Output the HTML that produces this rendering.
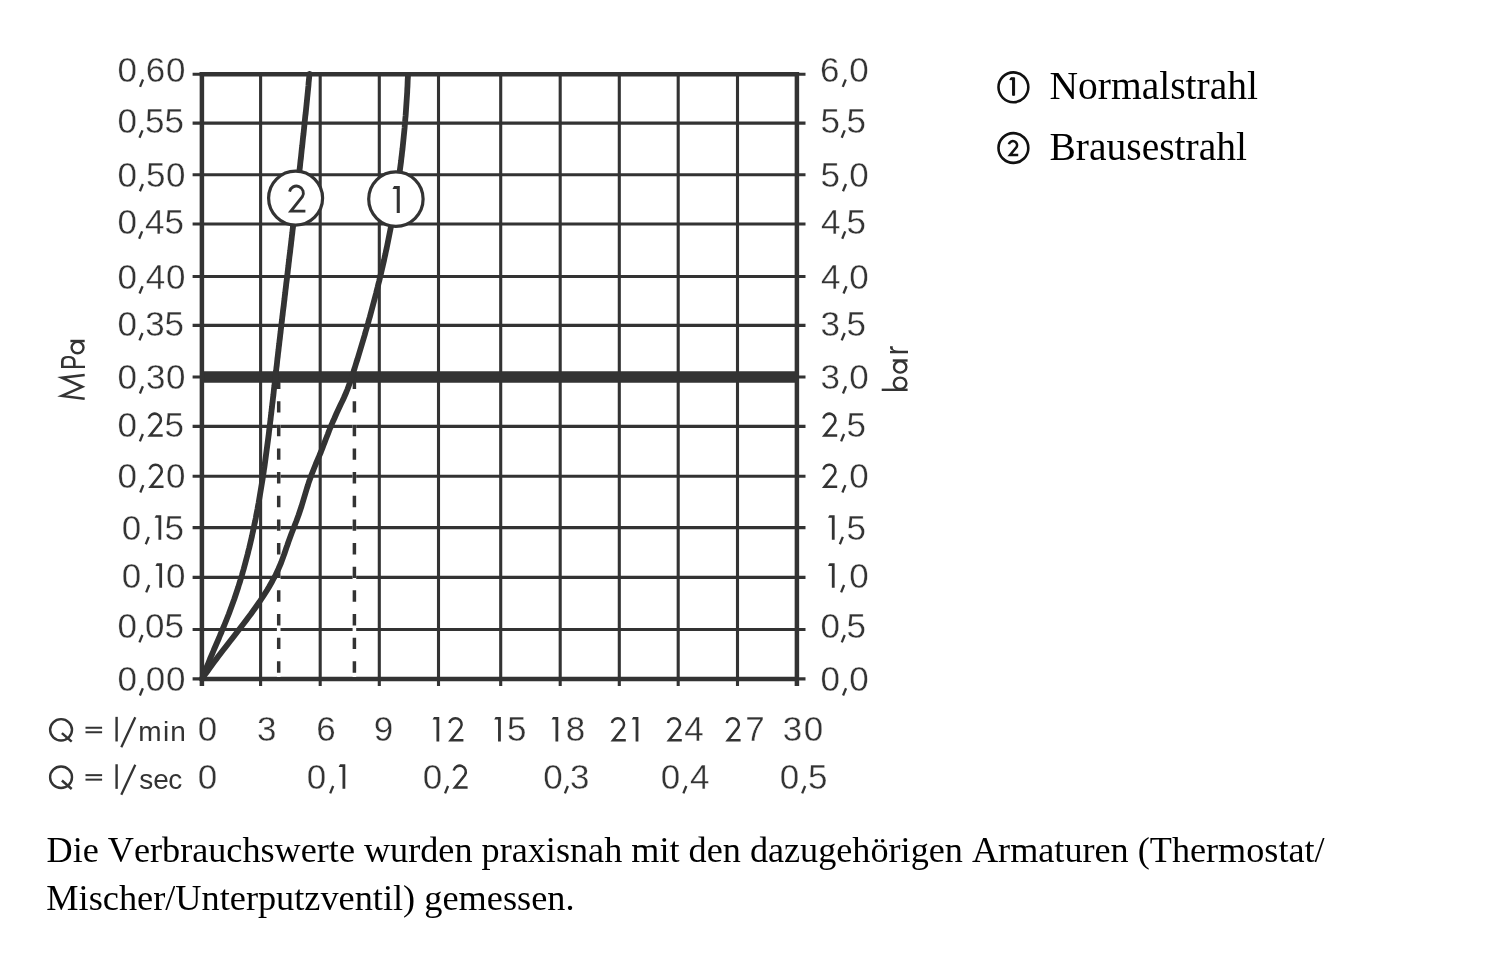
<!DOCTYPE html>
<html><head><meta charset="utf-8"><title>Durchflussdiagramm</title>
<style>
html,body{margin:0;padding:0;background:#fff;}
body{width:1500px;height:956px;overflow:hidden;}
svg{display:block;font-family:"Liberation Sans",sans-serif;filter:grayscale(1);}
text{paint-order:fill;font-kerning:none;}
</style></head>
<body>
<svg width="1500" height="956" viewBox="0 0 1500 956">
<rect width="1500" height="956" fill="#fff"/>
<line x1="192.6" y1="629.5" x2="805.5" y2="629.5" stroke="#333333" stroke-width="3.1"/>
<line x1="192.6" y1="577.4" x2="805.5" y2="577.4" stroke="#333333" stroke-width="3.1"/>
<line x1="192.6" y1="527.6" x2="805.5" y2="527.6" stroke="#333333" stroke-width="3.1"/>
<line x1="192.6" y1="476.2" x2="805.5" y2="476.2" stroke="#333333" stroke-width="3.1"/>
<line x1="192.6" y1="426.4" x2="805.5" y2="426.4" stroke="#333333" stroke-width="3.1"/>
<line x1="192.6" y1="377.0" x2="805.5" y2="377.0" stroke="#333333" stroke-width="3.1"/>
<line x1="192.6" y1="325.4" x2="805.5" y2="325.4" stroke="#333333" stroke-width="3.1"/>
<line x1="192.6" y1="276.5" x2="805.5" y2="276.5" stroke="#333333" stroke-width="3.1"/>
<line x1="192.6" y1="224.0" x2="805.5" y2="224.0" stroke="#333333" stroke-width="3.1"/>
<line x1="192.6" y1="174.8" x2="805.5" y2="174.8" stroke="#333333" stroke-width="3.1"/>
<line x1="192.6" y1="123.1" x2="805.5" y2="123.1" stroke="#333333" stroke-width="3.1"/>
<line x1="260.6" y1="74.2" x2="260.6" y2="686" stroke="#333333" stroke-width="3.1"/>
<line x1="320.2" y1="74.2" x2="320.2" y2="686" stroke="#333333" stroke-width="3.1"/>
<line x1="379.3" y1="74.2" x2="379.3" y2="686" stroke="#333333" stroke-width="3.1"/>
<line x1="438.5" y1="74.2" x2="438.5" y2="686" stroke="#333333" stroke-width="3.1"/>
<line x1="500.7" y1="74.2" x2="500.7" y2="686" stroke="#333333" stroke-width="3.1"/>
<line x1="560.2" y1="74.2" x2="560.2" y2="686" stroke="#333333" stroke-width="3.1"/>
<line x1="619.3" y1="74.2" x2="619.3" y2="686" stroke="#333333" stroke-width="3.1"/>
<line x1="678.2" y1="74.2" x2="678.2" y2="686" stroke="#333333" stroke-width="3.1"/>
<line x1="737.5" y1="74.2" x2="737.5" y2="686" stroke="#333333" stroke-width="3.1"/>
<line x1="201.9" y1="377.0" x2="796.9" y2="377.0" stroke="#333333" stroke-width="11.6"/>
<line x1="192.6" y1="74.2" x2="805.5" y2="74.2" stroke="#333333" stroke-width="3.1"/>
<line x1="199.8" y1="74.2" x2="799.0" y2="74.2" stroke="#333333" stroke-width="4.5"/>
<line x1="192.6" y1="678.9" x2="805.5" y2="678.9" stroke="#333333" stroke-width="3.1"/>
<line x1="199.8" y1="678.9" x2="799.0" y2="678.9" stroke="#333333" stroke-width="4.5"/>
<line x1="201.9" y1="72.10000000000001" x2="201.9" y2="686" stroke="#333333" stroke-width="4.5"/>
<line x1="796.9" y1="72.10000000000001" x2="796.9" y2="686" stroke="#333333" stroke-width="4.5"/>
<line x1="278.7" y1="382.8" x2="278.7" y2="677" stroke="#fff" stroke-width="3.6"/>
<line x1="278.7" y1="377.5" x2="278.7" y2="674" stroke="#333333" stroke-width="3.5" stroke-dasharray="11.4 12.25"/>
<line x1="354.4" y1="382.8" x2="354.4" y2="677" stroke="#fff" stroke-width="3.6"/>
<line x1="354.4" y1="377.5" x2="354.4" y2="674" stroke="#333333" stroke-width="3.5" stroke-dasharray="11.4 12.25"/>
<path d="M408.0,74.0 L407.9,77.0 L407.7,80.0 L407.6,83.0 L407.5,86.0 L407.3,89.0 L407.2,92.0 L407.0,95.0 L406.8,98.0 L406.6,101.0 L406.4,104.0 L406.2,107.0 L406.0,110.0 L405.8,113.0 L405.6,116.0 L405.3,119.0 L405.1,122.0 L404.8,125.0 L404.6,128.0 L404.3,131.0 L404.0,134.0 L403.7,137.0 L403.4,140.0 L403.1,143.0 L402.8,146.0 L402.5,149.0 L402.1,152.0 L401.8,155.0 L401.4,158.0 L401.1,161.0 L400.7,164.0 L400.3,167.0 L399.9,170.0 L399.6,173.0 L399.1,176.0 L398.7,179.0 L398.3,182.0 L397.9,185.0 L397.4,188.0 L397.0,191.0 L396.5,194.0 L396.1,197.0 L395.6,200.0 L395.1,203.0 L394.6,206.0 L394.1,209.0 L393.6,212.0 L393.1,215.0 L392.5,218.0 L392.0,221.0 L391.4,224.0 L390.9,227.0 L390.3,230.0 L389.7,233.0 L389.1,236.0 L388.5,239.0 L387.9,242.0 L387.3,245.0 L386.7,248.0 L386.0,251.0 L385.4,254.0 L384.7,257.0 L384.1,260.0 L383.4,263.0 L382.7,266.0 L382.0,269.0 L381.3,272.0 L380.6,275.0 L379.9,278.0 L379.2,281.0 L378.4,284.0 L377.7,287.0 L376.9,290.0 L376.2,293.0 L375.4,296.0 L374.6,299.0 L373.8,302.0 L373.0,305.0 L372.2,308.0 L371.4,311.0 L370.6,314.0 L369.8,317.0 L368.9,320.0 L368.1,323.0 L367.2,326.0 L366.4,329.0 L365.5,332.0 L364.7,335.0 L363.8,338.0 L362.9,341.0 L362.0,344.0 L361.1,347.0 L360.2,350.0 L359.3,353.0 L358.4,356.0 L357.5,359.0 L356.5,362.0 L355.6,365.0 L354.7,368.0 L353.7,371.0 L352.8,374.0 L351.8,377.0 L350.8,380.0 L349.8,383.0 L348.7,386.0 L347.6,389.0 L346.4,392.0 L345.1,395.0 L343.8,398.0 L342.4,401.0 L340.9,404.0 L339.5,407.0 L338.1,410.0 L336.7,413.0 L335.4,416.0 L334.1,419.0 L332.7,422.0 L331.5,425.0 L330.2,428.0 L329.0,431.0 L327.9,434.0 L326.7,437.0 L325.5,440.0 L324.4,443.0 L323.2,446.0 L322.1,449.0 L320.9,452.0 L319.6,455.0 L318.4,458.0 L317.1,461.0 L315.8,464.0 L314.6,467.0 L313.4,470.0 L312.2,473.0 L311.0,476.0 L310.0,479.0 L308.9,482.0 L308.0,485.0 L307.0,488.0 L306.1,491.0 L305.2,494.0 L304.3,497.0 L303.4,500.0 L302.5,503.0 L301.6,506.0 L300.6,509.0 L299.6,512.0 L298.6,515.0 L297.5,518.0 L296.4,521.0 L295.2,524.0 L294.1,527.0 L292.9,530.0 L291.7,533.0 L290.6,536.0 L289.5,539.0 L288.4,542.0 L287.4,545.0 L286.3,548.0 L285.3,551.0 L284.3,554.0 L283.2,557.0 L282.1,560.0 L281.0,563.0 L279.7,566.0 L278.4,569.0 L277.0,572.0 L275.6,575.0 L274.0,578.0 L272.4,581.0 L270.7,584.0 L269.0,587.0 L267.2,590.0 L265.3,593.0 L263.4,596.0 L261.4,599.0 L259.4,602.0 L257.3,605.0 L255.2,608.0 L253.0,611.0 L250.9,614.0 L248.6,617.0 L246.4,620.0 L244.1,623.0 L241.8,626.0 L239.5,629.0 L237.2,632.0 L234.9,635.0 L232.6,638.0 L230.2,641.0 L227.9,644.0 L225.6,647.0 L223.2,650.0 L220.9,653.0 L218.6,656.0 L216.4,659.0 L214.1,662.0 L211.9,665.0 L209.7,668.0 L207.6,671.0 L205.4,674.0 L203.4,677.0 L202.0,679.0" fill="none" stroke="#333333" stroke-width="5.8" stroke-linejoin="round" stroke-linecap="butt"/>
<path d="M309.5,74.0 L309.2,77.0 L308.9,80.0 L308.6,83.0 L308.4,86.0 L308.1,89.0 L307.8,92.0 L307.5,95.0 L307.2,98.0 L306.9,101.0 L306.6,104.0 L306.3,107.0 L306.0,110.0 L305.7,113.0 L305.3,116.0 L305.0,119.0 L304.7,122.0 L304.4,125.0 L304.1,128.0 L303.8,131.0 L303.5,134.0 L303.1,137.0 L302.8,140.0 L302.5,143.0 L302.2,146.0 L301.8,149.0 L301.5,152.0 L301.2,155.0 L300.9,158.0 L300.5,161.0 L300.2,164.0 L299.9,167.0 L299.5,170.0 L299.2,173.0 L298.8,176.0 L298.5,179.0 L298.2,182.0 L297.8,185.0 L297.5,188.0 L297.1,191.0 L296.8,194.0 L296.5,197.0 L296.1,200.0 L295.8,203.0 L295.4,206.0 L295.1,209.0 L294.7,212.0 L294.4,215.0 L294.0,218.0 L293.7,221.0 L293.3,224.0 L293.0,227.0 L292.6,230.0 L292.3,233.0 L291.9,236.0 L291.6,239.0 L291.2,242.0 L290.9,245.0 L290.5,248.0 L290.2,251.0 L289.8,254.0 L289.4,257.0 L289.1,260.0 L288.7,263.0 L288.4,266.0 L288.0,269.0 L287.7,272.0 L287.3,275.0 L287.0,278.0 L286.6,281.0 L286.2,284.0 L285.9,287.0 L285.5,290.0 L285.2,293.0 L284.8,296.0 L284.5,299.0 L284.1,302.0 L283.8,305.0 L283.4,308.0 L283.0,311.0 L282.7,314.0 L282.3,317.0 L282.0,320.0 L281.6,323.0 L281.3,326.0 L280.9,329.0 L280.6,332.0 L280.2,335.0 L279.9,338.0 L279.5,341.0 L279.2,344.0 L278.8,347.0 L278.5,350.0 L278.1,353.0 L277.8,356.0 L277.4,359.0 L277.1,362.0 L276.8,365.0 L276.4,368.0 L276.1,371.0 L275.7,374.0 L275.4,377.0 L275.1,380.0 L274.7,383.0 L274.4,386.0 L274.0,389.0 L273.7,392.0 L273.4,395.0 L273.0,398.0 L272.7,401.0 L272.3,404.0 L272.0,407.0 L271.6,410.0 L271.3,413.0 L270.9,416.0 L270.6,419.0 L270.2,422.0 L269.9,425.0 L269.5,428.0 L269.1,431.0 L268.8,434.0 L268.4,437.0 L268.0,440.0 L267.6,443.0 L267.2,446.0 L266.8,449.0 L266.4,452.0 L266.0,455.0 L265.6,458.0 L265.2,461.0 L264.8,464.0 L264.4,467.0 L263.9,470.0 L263.5,473.0 L263.0,476.0 L262.6,479.0 L262.1,482.0 L261.6,485.0 L261.1,488.0 L260.6,491.0 L260.1,494.0 L259.6,497.0 L259.1,500.0 L258.6,503.0 L258.0,506.0 L257.5,509.0 L256.9,512.0 L256.3,515.0 L255.8,518.0 L255.2,521.0 L254.5,524.0 L253.9,527.0 L253.3,530.0 L252.6,533.0 L252.0,536.0 L251.3,539.0 L250.6,542.0 L249.9,545.0 L249.2,548.0 L248.4,551.0 L247.7,554.0 L246.9,557.0 L246.1,560.0 L245.3,563.0 L244.5,566.0 L243.7,569.0 L242.8,572.0 L242.0,575.0 L241.1,578.0 L240.2,581.0 L239.2,584.0 L238.3,587.0 L237.3,590.0 L236.3,593.0 L235.3,596.0 L234.3,599.0 L233.2,602.0 L232.1,605.0 L231.0,608.0 L229.9,611.0 L228.8,614.0 L227.6,617.0 L226.4,620.0 L225.2,623.0 L224.0,626.0 L222.7,629.0 L221.5,632.0 L220.2,635.0 L219.0,638.0 L217.7,641.0 L216.4,644.0 L215.1,647.0 L213.8,650.0 L212.6,653.0 L211.3,656.0 L210.0,659.0 L208.8,662.0 L207.6,665.0 L206.3,668.0 L205.1,671.0 L203.9,674.0 L202.8,677.0 L202.0,679.0" fill="none" stroke="#333333" stroke-width="5.8" stroke-linejoin="round" stroke-linecap="round"/>
<circle cx="295.6" cy="198.1" r="27.0" fill="#fff" stroke="#333333" stroke-width="3.2"/>
<circle cx="395.9" cy="199.1" r="27.2" fill="#fff" stroke="#333333" stroke-width="3.2"/>
<path d="M289.55,191.58 A7.00,7.00 0 1 1 302.34,196.75 L290.90,211.16 L305.40,211.16" fill="none" stroke="#333333" stroke-width="2.88" stroke-linejoin="miter" stroke-miterlimit="10"/>
<path d="M396.73,213.00 L399.80,213.00 L399.80,186.12 L394.04,186.12 L392.50,189.00 L396.73,189.00 Z" fill="#333333"/>
<path d="M140.94,695.98 L143.91,688.63 L141.77,687.77 L138.79,695.12 Z" fill="#333333"/>
<text x="117.38 145.86 165.90" y="691.00" font-size="35" fill="#333333" stroke="#fff" stroke-width="0.35">000</text>
<path d="M844.13,695.98 L847.11,688.63 L844.97,687.77 L841.99,695.12 Z" fill="#333333"/>
<text x="820.43 849.20" y="691.00" font-size="35" fill="#333333" stroke="#fff" stroke-width="0.35">00</text>
<path d="M140.51,642.78 L143.49,635.43 L141.35,634.57 L138.37,641.92 Z" fill="#333333"/>
<text x="117.38 145.02 164.60" y="637.80" font-size="35" fill="#333333" stroke="#fff" stroke-width="0.35">005</text>
<path d="M842.85,642.78 L845.83,635.43 L843.69,634.57 L840.71,641.92 Z" fill="#333333"/>
<text x="820.43 846.60" y="637.80" font-size="35" fill="#333333" stroke="#fff" stroke-width="0.35">05</text>
<path d="M147.26,592.78 L150.24,585.43 L148.10,584.57 L145.12,591.92 Z" fill="#333333"/>
<path d="M159.28,587.80 L162.08,587.80 L162.08,563.30 L156.83,563.30 L155.43,565.92 L159.28,565.92 Z" fill="#333333"/>
<text x="121.83 165.90" y="587.80" font-size="35" fill="#333333" stroke="#fff" stroke-width="0.35">00</text>
<path d="M831.85,587.80 L834.65,587.80 L834.65,563.30 L829.40,563.30 L828.00,565.92 L831.85,565.92 Z" fill="#333333"/>
<path d="M842.19,592.78 L845.17,585.43 L843.03,584.57 L840.05,591.92 Z" fill="#333333"/>
<text x="849.20" y="587.80" font-size="35" fill="#333333" stroke="#fff" stroke-width="0.35">0</text>
<path d="M146.84,544.63 L149.82,537.28 L147.68,536.42 L144.70,543.77 Z" fill="#333333"/>
<path d="M158.44,539.65 L161.24,539.65 L161.24,515.15 L155.99,515.15 L154.59,517.77 L158.44,517.77 Z" fill="#333333"/>
<text x="121.83 164.60" y="539.65" font-size="35" fill="#333333" stroke="#fff" stroke-width="0.35">05</text>
<path d="M831.85,539.65 L834.65,539.65 L834.65,515.15 L829.40,515.15 L828.00,517.77 L831.85,517.77 Z" fill="#333333"/>
<path d="M840.91,544.63 L843.89,537.28 L841.74,536.42 L838.77,543.77 Z" fill="#333333"/>
<text x="846.60" y="539.65" font-size="35" fill="#333333" stroke="#fff" stroke-width="0.35">5</text>
<path d="M141.38,492.93 L144.35,485.58 L142.21,484.72 L139.24,492.07 Z" fill="#333333"/>
<path d="M149.65,469.56 A6.12,6.12 0 1 1 160.83,474.08 L150.82,486.69 L163.51,486.69" fill="none" stroke="#333333" stroke-width="2.52" stroke-linejoin="miter" stroke-miterlimit="10"/>
<text x="117.38 165.90" y="487.95" font-size="35" fill="#333333" stroke="#fff" stroke-width="0.35">00</text>
<path d="M823.33,469.56 A6.12,6.12 0 1 1 834.52,474.08 L824.51,486.69 L837.20,486.69" fill="none" stroke="#333333" stroke-width="2.52" stroke-linejoin="miter" stroke-miterlimit="10"/>
<path d="M843.47,492.93 L846.44,485.58 L844.30,484.72 L841.33,492.07 Z" fill="#333333"/>
<text x="849.20" y="487.95" font-size="35" fill="#333333" stroke="#fff" stroke-width="0.35">0</text>
<path d="M140.96,441.83 L143.93,434.48 L141.79,433.62 L138.82,440.97 Z" fill="#333333"/>
<path d="M148.80,418.46 A6.12,6.12 0 1 1 159.99,422.98 L149.98,435.59 L162.67,435.59" fill="none" stroke="#333333" stroke-width="2.52" stroke-linejoin="miter" stroke-miterlimit="10"/>
<text x="117.38 164.60" y="436.85" font-size="35" fill="#333333" stroke="#fff" stroke-width="0.35">05</text>
<path d="M823.33,418.46 A6.12,6.12 0 1 1 834.52,422.98 L824.51,435.59 L837.20,435.59" fill="none" stroke="#333333" stroke-width="2.52" stroke-linejoin="miter" stroke-miterlimit="10"/>
<path d="M842.19,441.83 L845.16,434.48 L843.02,433.62 L840.04,440.97 Z" fill="#333333"/>
<text x="846.60" y="436.85" font-size="35" fill="#333333" stroke="#fff" stroke-width="0.35">5</text>
<path d="M140.98,393.98 L143.96,386.63 L141.82,385.77 L138.84,393.12 Z" fill="#333333"/>
<text x="117.38 145.98 165.90" y="389.00" font-size="35" fill="#333333" stroke="#fff" stroke-width="0.35">030</text>
<path d="M844.06,393.98 L847.04,386.63 L844.90,385.77 L841.92,393.12 Z" fill="#333333"/>
<text x="820.47 849.20" y="389.00" font-size="35" fill="#333333" stroke="#fff" stroke-width="0.35">30</text>
<path d="M140.56,340.83 L143.54,333.48 L141.39,332.62 L138.42,339.97 Z" fill="#333333"/>
<text x="117.38 145.14 164.60" y="335.85" font-size="35" fill="#333333" stroke="#fff" stroke-width="0.35">035</text>
<path d="M842.78,340.83 L845.76,333.48 L843.62,332.62 L840.64,339.97 Z" fill="#333333"/>
<text x="820.47 846.60" y="335.85" font-size="35" fill="#333333" stroke="#fff" stroke-width="0.35">35</text>
<path d="M140.63,293.98 L143.61,286.63 L141.47,285.77 L138.49,293.12 Z" fill="#333333"/>
<text x="117.38 145.82 165.90" y="289.00" font-size="35" fill="#333333" stroke="#fff" stroke-width="0.35">040</text>
<path d="M844.59,293.98 L847.56,286.63 L845.42,285.77 L842.44,293.12 Z" fill="#333333"/>
<text x="821.00 849.20" y="289.00" font-size="35" fill="#333333" stroke="#fff" stroke-width="0.35">40</text>
<path d="M140.21,239.18 L143.19,231.83 L141.05,230.97 L138.07,238.32 Z" fill="#333333"/>
<text x="117.38 144.98 164.60" y="234.20" font-size="35" fill="#333333" stroke="#fff" stroke-width="0.35">045</text>
<path d="M843.30,239.18 L846.28,231.83 L844.14,230.97 L841.16,238.32 Z" fill="#333333"/>
<text x="821.00 846.60" y="234.20" font-size="35" fill="#333333" stroke="#fff" stroke-width="0.35">45</text>
<path d="M140.98,191.73 L143.96,184.38 L141.82,183.52 L138.84,190.87 Z" fill="#333333"/>
<text x="117.38 145.91 165.90" y="186.75" font-size="35" fill="#333333" stroke="#fff" stroke-width="0.35">050</text>
<path d="M844.06,191.73 L847.04,184.38 L844.90,183.52 L841.92,190.87 Z" fill="#333333"/>
<text x="820.40 849.20" y="186.75" font-size="35" fill="#333333" stroke="#fff" stroke-width="0.35">50</text>
<path d="M140.56,138.13 L143.54,130.78 L141.39,129.92 L138.42,137.27 Z" fill="#333333"/>
<text x="117.38 145.07 164.60" y="133.15" font-size="35" fill="#333333" stroke="#fff" stroke-width="0.35">055</text>
<path d="M842.78,138.13 L845.76,130.78 L843.62,129.92 L840.64,137.27 Z" fill="#333333"/>
<text x="820.40 846.60" y="133.15" font-size="35" fill="#333333" stroke="#fff" stroke-width="0.35">55</text>
<path d="M141.13,87.28 L144.10,79.93 L141.96,79.07 L138.99,86.42 Z" fill="#333333"/>
<text x="117.38 145.83 165.90" y="82.30" font-size="35" fill="#333333" stroke="#fff" stroke-width="0.35">060</text>
<path d="M843.84,87.28 L846.82,79.93 L844.68,79.07 L841.70,86.42 Z" fill="#333333"/>
<text x="820.02 849.20" y="82.30" font-size="35" fill="#333333" stroke="#fff" stroke-width="0.35">60</text>
<path transform="translate(84.7,0) rotate(-90)" d="M-398.65,0.00 L-395.87,-22.85 L-386.80,-2.40 L-377.73,-22.85 L-374.95,0.00" fill="none" stroke="#333333" stroke-width="2.5" stroke-linejoin="miter" stroke-miterlimit="4"/>
<text transform="translate(84.70,368.00) rotate(-90) scale(0.6442,1)" x="-2.87" y="0" font-size="35" fill="#333333">P</text>
<ellipse transform="translate(84.7,0) rotate(-90)" cx="-347.57" cy="-7.15" rx="5.73" ry="5.95" fill="none" stroke="#333333" stroke-width="2.4"/>
<line transform="translate(84.7,0) rotate(-90)" x1="-341.00" y1="0" x2="-341.00" y2="-14.30" stroke="#333333" stroke-width="2.4"/>
<ellipse transform="translate(907.6,0) rotate(-90)" cx="-383.28" cy="-7.50" rx="5.68" ry="6.30" fill="none" stroke="#333333" stroke-width="2.4"/>
<line transform="translate(907.6,0) rotate(-90)" x1="-389.80" y1="0" x2="-389.80" y2="-25.90" stroke="#333333" stroke-width="2.4"/>
<ellipse transform="translate(907.6,0) rotate(-90)" cx="-366.97" cy="-7.40" rx="5.63" ry="6.20" fill="none" stroke="#333333" stroke-width="2.4"/>
<line transform="translate(907.6,0) rotate(-90)" x1="-360.50" y1="0" x2="-360.50" y2="-14.80" stroke="#333333" stroke-width="2.4"/>
<text transform="translate(907.60,353.40) rotate(-90) scale(0.8727,1)" x="-2.19" y="0" font-size="33" fill="#333333">r</text>
<text x="197.87" y="741.45" font-size="35" fill="#333333" stroke="#fff" stroke-width="0.35">0</text>
<text x="256.97" y="741.45" font-size="35" fill="#333333" stroke="#fff" stroke-width="0.35">3</text>
<text x="316.15" y="741.45" font-size="35" fill="#333333" stroke="#fff" stroke-width="0.35">6</text>
<text x="373.63" y="741.45" font-size="35" fill="#333333" stroke="#fff" stroke-width="0.35">9</text>
<path d="M436.45,741.45 L439.25,741.45 L439.25,716.95 L434.00,716.95 L432.60,719.57 L436.45,719.57 Z" fill="#333333"/>
<path d="M449.53,723.06 A6.12,6.12 0 1 1 460.72,727.58 L450.71,740.19 L463.40,740.19" fill="none" stroke="#333333" stroke-width="2.52" stroke-linejoin="miter" stroke-miterlimit="10"/>
<path d="M498.05,741.45 L500.85,741.45 L500.85,716.95 L495.60,716.95 L494.20,719.57 L498.05,719.57 Z" fill="#333333"/>
<text x="507.00" y="741.45" font-size="35" fill="#333333" stroke="#fff" stroke-width="0.35">5</text>
<path d="M555.45,741.45 L558.25,741.45 L558.25,716.95 L553.00,716.95 L551.60,719.57 L555.45,719.57 Z" fill="#333333"/>
<text x="565.86" y="741.45" font-size="35" fill="#333333" stroke="#fff" stroke-width="0.35">8</text>
<path d="M611.93,723.06 A6.12,6.12 0 1 1 623.12,727.58 L613.11,740.19 L625.80,740.19" fill="none" stroke="#333333" stroke-width="2.52" stroke-linejoin="miter" stroke-miterlimit="10"/>
<path d="M635.60,741.45 L638.40,741.45 L638.40,716.95 L633.15,716.95 L631.75,719.57 L635.60,719.57 Z" fill="#333333"/>
<path d="M667.93,723.06 A6.12,6.12 0 1 1 679.12,727.58 L669.11,740.19 L681.80,740.19" fill="none" stroke="#333333" stroke-width="2.52" stroke-linejoin="miter" stroke-miterlimit="10"/>
<text x="684.36" y="741.45" font-size="35" fill="#333333" stroke="#fff" stroke-width="0.35">4</text>
<path d="M726.73,723.06 A6.12,6.12 0 1 1 737.92,727.58 L727.91,740.19 L740.60,740.19" fill="none" stroke="#333333" stroke-width="2.52" stroke-linejoin="miter" stroke-miterlimit="10"/>
<text x="745.29" y="741.45" font-size="35" fill="#333333" stroke="#fff" stroke-width="0.35">7</text>
<text x="782.67 803.70" y="741.45" font-size="35" fill="#333333" stroke="#fff" stroke-width="0.35">30</text>
<text x="197.87" y="788.85" font-size="35" fill="#333333" stroke="#fff" stroke-width="0.35">0</text>
<path d="M331.27,793.83 L334.25,786.48 L332.11,785.62 L329.13,792.97 Z" fill="#333333"/>
<path d="M342.50,788.85 L345.30,788.85 L345.30,764.35 L340.05,764.35 L338.65,766.98 L342.50,766.98 Z" fill="#333333"/>
<text x="306.63" y="788.85" font-size="35" fill="#333333" stroke="#fff" stroke-width="0.35">0</text>
<path d="M446.15,793.83 L449.12,786.48 L446.98,785.62 L444.01,792.97 Z" fill="#333333"/>
<path d="M453.73,770.46 A6.12,6.12 0 1 1 464.92,774.98 L454.91,787.59 L467.60,787.59" fill="none" stroke="#333333" stroke-width="2.52" stroke-linejoin="miter" stroke-miterlimit="10"/>
<text x="422.83" y="788.85" font-size="35" fill="#333333" stroke="#fff" stroke-width="0.35">0</text>
<path d="M565.95,793.83 L568.93,786.48 L566.79,785.62 L563.81,792.97 Z" fill="#333333"/>
<text x="543.23 570.07" y="788.85" font-size="35" fill="#333333" stroke="#fff" stroke-width="0.35">03</text>
<path d="M684.43,793.83 L687.41,786.48 L685.26,785.62 L682.29,792.97 Z" fill="#333333"/>
<text x="660.83 689.96" y="788.85" font-size="35" fill="#333333" stroke="#fff" stroke-width="0.35">04</text>
<path d="M803.25,793.83 L806.23,786.48 L804.09,785.62 L801.11,792.97 Z" fill="#333333"/>
<text x="779.83 808.00" y="788.85" font-size="35" fill="#333333" stroke="#fff" stroke-width="0.35">05</text>
<ellipse cx="61.05" cy="729.85" rx="10.95" ry="10.7" fill="none" stroke="#333333" stroke-width="2.4"/>
<line x1="61.9" y1="733.15" x2="71.7" y2="741.65" stroke="#333333" stroke-width="2.5"/>
<line x1="85.5" y1="727.75" x2="102.1" y2="727.75" stroke="#333333" stroke-width="2"/>
<line x1="85.5" y1="732.25" x2="102.1" y2="732.25" stroke="#333333" stroke-width="2"/>
<line x1="116.6" y1="716.85" x2="116.6" y2="741.45" stroke="#333333" stroke-width="2.4"/>
<line x1="121.3" y1="747.25" x2="135.3" y2="717.25" stroke="#333333" stroke-width="2.3"/>
<text x="138.14 162.93 170.14" y="741.45" font-size="28" fill="#333333">min</text>
<ellipse cx="61.05" cy="777.25" rx="10.95" ry="10.7" fill="none" stroke="#333333" stroke-width="2.4"/>
<line x1="61.9" y1="780.55" x2="71.7" y2="789.05" stroke="#333333" stroke-width="2.5"/>
<line x1="85.5" y1="775.15" x2="102.1" y2="775.15" stroke="#333333" stroke-width="2"/>
<line x1="85.5" y1="779.65" x2="102.1" y2="779.65" stroke="#333333" stroke-width="2"/>
<line x1="116.6" y1="764.25" x2="116.6" y2="788.85" stroke="#333333" stroke-width="2.4"/>
<line x1="121.3" y1="794.65" x2="135.3" y2="764.65" stroke="#333333" stroke-width="2.3"/>
<text x="139.22 153.21 168.31" y="788.85" font-size="28" fill="#333333">sec</text>
<circle cx="1013.4" cy="87.3" r="14.9" fill="none" stroke="#111" stroke-width="2.6"/>
<text x="1049.50" y="99.20" font-size="39.5" font-family="Liberation Serif" fill="#000">Normalstrahl</text>
<circle cx="1013.4" cy="148.0" r="14.9" fill="none" stroke="#111" stroke-width="2.6"/>
<text x="1049.50" y="159.60" font-size="39.5" font-family="Liberation Serif" fill="#000">Brausestrahl</text>
<path d="M1012.58,95.30 L1014.58,95.30 L1014.58,77.80 L1010.83,77.80 L1009.83,79.67 L1012.58,79.67 Z" fill="#111" stroke="#111" stroke-width="1.0" stroke-linejoin="round"/>
<path d="M1008.91,144.35 A4.11,4.11 0 1 1 1016.42,147.39 L1010.06,155.05 L1018.22,155.05" fill="none" stroke="#111" stroke-width="2.49" stroke-linejoin="miter" stroke-miterlimit="10"/>
<text x="46.50" y="861.80" font-size="36.2" font-family="Liberation Serif" fill="#000">Die Verbrauchswerte wurden praxisnah mit den dazugehörigen Armaturen (Thermostat/</text>
<text x="46.30" y="909.90" font-size="36.3" font-family="Liberation Serif" fill="#000">Mischer/Unterputzventil) gemessen.</text>
</svg>
</body></html>
